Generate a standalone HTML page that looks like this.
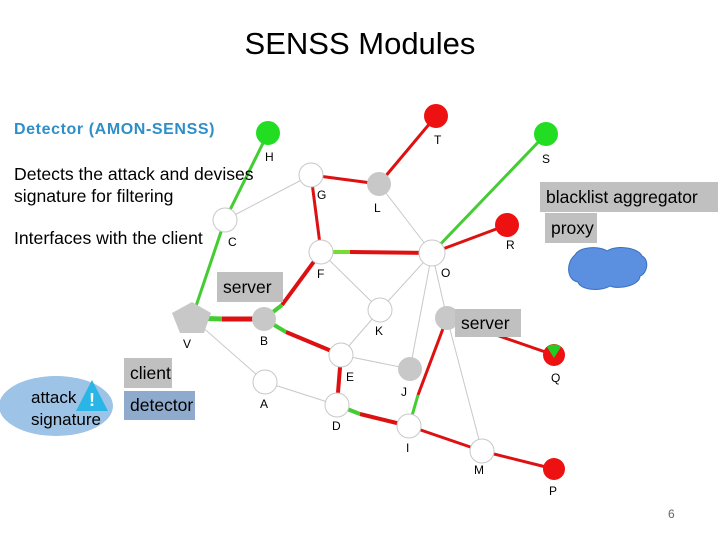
<!DOCTYPE html>
<html><head><style>
body{margin:0;width:720px;height:540px;background:#fff;overflow:hidden;position:relative;font-family:"Liberation Sans",sans-serif}
.t{position:absolute;white-space:nowrap}
.box{position:absolute;background:#c0c0c0;font-size:17.5px;color:#000;padding-left:6px;line-height:30px}
</style></head><body>
<svg width="720" height="540" style="position:absolute;left:0;top:0">
<g stroke="#c8c8c8" stroke-width="1">
<line x1="225" y1="220" x2="311" y2="175"/><line x1="379" y1="184" x2="432" y2="253"/>
<line x1="321" y1="252" x2="380" y2="310"/><line x1="380" y1="310" x2="432" y2="253"/>
<line x1="192" y1="318" x2="265" y2="382"/><line x1="380" y1="310" x2="341" y2="355"/>
<line x1="341" y1="355" x2="410" y2="369"/><line x1="265" y1="382" x2="337" y2="405"/>
<line x1="432" y1="253" x2="410" y2="369"/><line x1="432" y1="253" x2="447" y2="318"/>
<line x1="447" y1="318" x2="482" y2="451"/>
</g>
<g stroke-width="3" fill="none">
<line x1="268" y1="133" x2="225" y2="220" stroke="#44cc33"/>
<line x1="225" y1="220" x2="192" y2="318" stroke="#44cc33"/>
<line x1="311" y1="175" x2="379" y2="184" stroke="#dd1111"/>
<line x1="379" y1="184" x2="436" y2="116" stroke="#dd1111"/>
<line x1="311" y1="175" x2="321" y2="252" stroke="#dd1111"/>
<line x1="432" y1="253" x2="546" y2="134" stroke="#44cc33"/>
<line x1="432" y1="253" x2="507" y2="225" stroke="#dd1111"/>
<line x1="321" y1="252" x2="350" y2="252" stroke="#77dd33" stroke-width="4"/>
<line x1="350" y1="252" x2="432" y2="253" stroke="#dd1111" stroke-width="4"/>
<line x1="321" y1="252" x2="282" y2="305" stroke="#dd1111" stroke-width="4"/>
<line x1="282" y1="305" x2="264" y2="319" stroke="#44cc33" stroke-width="4"/>
<line x1="192" y1="318" x2="222" y2="319" stroke="#44cc33" stroke-width="5"/>
<line x1="222" y1="319" x2="264" y2="319" stroke="#dd1111" stroke-width="5"/>
<line x1="264" y1="319" x2="286" y2="332" stroke="#44cc33" stroke-width="4"/>
<line x1="286" y1="332" x2="341" y2="355" stroke="#dd1111" stroke-width="4"/>
<line x1="341" y1="355" x2="337" y2="405" stroke="#dd1111" stroke-width="4"/>
<line x1="337" y1="405" x2="360" y2="414" stroke="#44cc33" stroke-width="4"/>
<line x1="360" y1="414" x2="409" y2="426" stroke="#dd1111" stroke-width="4"/>
<line x1="409" y1="426" x2="482" y2="451" stroke="#dd1111"/>
<line x1="482" y1="451" x2="554" y2="469" stroke="#dd1111"/>
<line x1="409" y1="426" x2="418" y2="395" stroke="#44cc33"/>
<line x1="418" y1="395" x2="447" y2="318" stroke="#dd1111"/>
<line x1="447" y1="318" x2="554" y2="355" stroke="#dd1111"/>
</g>
<g stroke="#c8c8c8" stroke-width="1">
<circle cx="268" cy="133" r="12" fill="#22dd22" stroke="none"/>
<circle cx="436" cy="116" r="12" fill="#ee1111" stroke="none"/>
<circle cx="546" cy="134" r="12" fill="#22dd22" stroke="none"/>
<circle cx="507" cy="225" r="12" fill="#ee1111" stroke="none"/>
<circle cx="554" cy="469" r="11" fill="#ee1111" stroke="none"/>
<circle cx="554" cy="355" r="11" fill="#ee1111" stroke="none"/>
<path d="M547,347 L554,358 L561,347 A11,11 0 0 0 547,347Z" fill="#22cc22" stroke="none"/>
<circle cx="311" cy="175" r="12" fill="#fff"/>
<circle cx="225" cy="220" r="12" fill="#fff"/>
<circle cx="321" cy="252" r="12" fill="#fff"/>
<circle cx="432" cy="253" r="13" fill="#fff"/>
<circle cx="380" cy="310" r="12" fill="#fff"/>
<circle cx="341" cy="355" r="12" fill="#fff"/>
<circle cx="265" cy="382" r="12" fill="#fff"/>
<circle cx="337" cy="405" r="12" fill="#fff"/>
<circle cx="409" cy="426" r="12" fill="#fff"/>
<circle cx="482" cy="451" r="12" fill="#fff"/>
<circle cx="379" cy="184" r="12" fill="#c8c8c8" stroke="none"/>
<circle cx="264" cy="319" r="12" fill="#c8c8c8" stroke="none"/>
<circle cx="447" cy="318" r="12" fill="#c8c8c8" stroke="none"/>
<circle cx="410" cy="369" r="12" fill="#c8c8c8" stroke="none"/>
<polygon points="192,302 211,313 204,333 180,333 172,313" fill="#c8c8c8" stroke="none"/>
</g>
<g font-family="Liberation Sans" font-size="12" fill="#000">
<text x="265" y="161">H</text><text x="434" y="144">T</text><text x="542" y="163">S</text>
<text x="317" y="199">G</text><text x="374" y="212">L</text><text x="228" y="246">C</text>
<text x="506" y="249">R</text><text x="317" y="278">F</text><text x="441" y="277">O</text>
<text x="183" y="348">V</text><text x="260" y="345">B</text><text x="375" y="335">K</text>
<text x="551" y="382">Q</text><text x="346" y="381">E</text><text x="401" y="396">J</text>
<text x="260" y="408">A</text><text x="332" y="430">D</text><text x="406" y="452">I</text>
<text x="474" y="474">M</text><text x="549" y="495">P</text>
</g>
<path d="M575,255 C580,246 600,246 607,251 C615,245 638,247 642,256 C650,260 647,274 640,276 C640,285 620,290 610,286 C600,292 580,290 578,282 C566,280 566,262 575,255Z" fill="#5b8fe0" stroke="#3a6fc0"/>
<ellipse cx="56" cy="406" rx="57" ry="30" fill="#9dc3e6"/>
<polygon points="92,380 108,411 76,411" fill="#29b6e6"/>
<text x="89" y="406" font-family="Liberation Sans" font-size="18" font-weight="bold" fill="#fff">!</text>
</svg>
<div class="t" style="left:0;width:720px;top:26px;text-align:center;font-size:31px">SENSS Modules</div>
<div class="t" style="left:14px;top:121px;font-size:16px;font-weight:bold;color:#2e8fc8;letter-spacing:0.6px">Detector (AMON-SENSS)</div>
<div class="t" style="left:14px;top:163px;font-size:17.6px;line-height:22px">Detects the attack and devises<br>signature for filtering</div>
<div class="t" style="left:14px;top:228px;font-size:17.6px">Interfaces with the client</div>
<div class="box" style="left:540px;top:182px;width:172px">blacklist aggregator</div>
<div class="box" style="left:545px;top:213px;width:46px">proxy</div>
<div class="box" style="left:217px;top:272px;width:60px">server</div>
<div class="box" style="left:455px;top:309px;width:60px;line-height:28px">server</div>
<div class="box" style="left:124px;top:358px;width:42px">client</div>
<div class="box" style="left:124px;top:391px;width:65px;background:#8eaacc;line-height:29px">detector</div>
<div class="t" style="left:31px;top:387px;font-size:17px;line-height:22px">attack<br>signature</div>
<div class="t" style="left:668px;top:507px;font-size:12px;color:#666">6</div>
</body></html>
